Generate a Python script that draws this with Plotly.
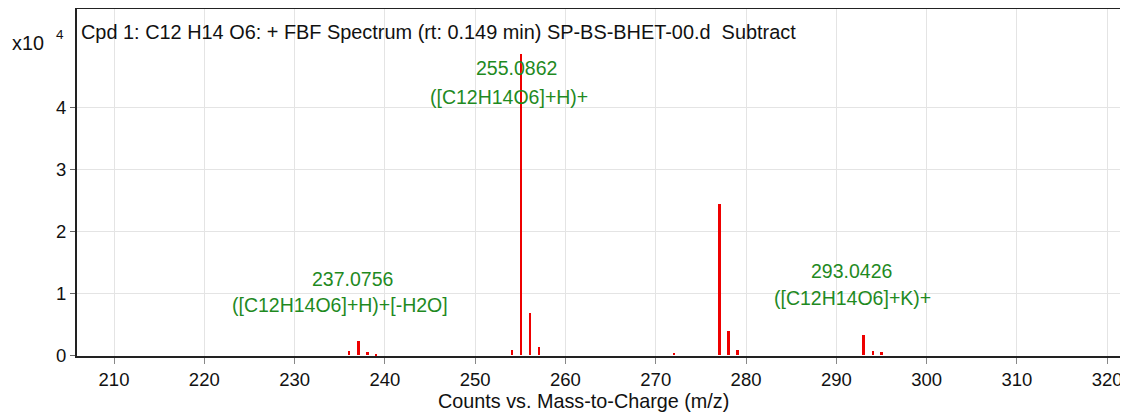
import plotly.graph_objects as go

# Peak data (m/z, counts in units of 10^4)
mz = [236.07, 237.0756, 238.08, 239.08, 254.08, 255.0862, 256.09, 257.09,
      272.06, 277.07, 278.07, 279.08, 293.0426, 294.05, 295.04]
intensity = [0.07, 0.23, 0.05, 0.02, 0.08, 4.87, 0.68, 0.14,
             0.04, 2.44, 0.39, 0.09, 0.33, 0.07, 0.05]
bar_width = [0.2, 0.3, 0.3, 0.15, 0.3, 0.22, 0.22, 0.22,
             0.2, 0.4, 0.35, 0.2, 0.2, 0.2, 0.35]

# Annotated peaks
ann_mass = ["255.0862", "237.0756", "293.0426"]
ann_formula = ["([C12H14O6]+H)+", "([C12H14O6]+H)+[-H2O]", "([C12H14O6]+K)+"]
ann_x1 = [254.6, 236.4, 291.7]
ann_x2 = [253.7, 235.05, 291.75]
ann_y1 = [4.65, 1.23, 1.37]
ann_y2 = [4.17, 0.81, 0.93]

x_ticks = [210, 220, 230, 240, 250, 260, 270, 280, 290, 300, 310, 320]
y_ticks = [0, 1, 2, 3, 4]

title_text = "Cpd 1: C12 H14 O6: + FBF Spectrum (rt: 0.149 min) SP-BS-BHET-00.d  Subtract"
x_title = "Counts vs. Mass-to-Charge (m/z)"

FONT = "Liberation Sans, Arial, sans-serif"
GREEN = "#1f8a1f"

fig = go.Figure()
fig.add_trace(go.Bar(x=mz, y=intensity, width=bar_width,
                     marker=dict(color="#ee0000", line=dict(width=0)),
                     hoverinfo="x+y"))

# page offset (browser body margin) is 8px; target coordinates are in page pixels
OFF = 8
W, H = 1128 - OFF, 414 - OFF
L, R, T, B = 77 - OFF, 0, 8 - OFF + 1, 58
pw, ph = W - L - R, H - T - B

def px(x):
    return (x - OFF - L) / pw

def py(y):
    return 1 - (y - OFF - T) / ph

annotations = []
for x1, x2, m, f, y1, y2 in zip(ann_x1, ann_x2, ann_mass, ann_formula, ann_y1, ann_y2):
    annotations.append(dict(x=x1, y=y1, xref="x", yref="y", text=m, showarrow=False,
                            font=dict(family=FONT, size=19.5, color=GREEN)))
    annotations.append(dict(x=x2, y=y2, xref="x", yref="y", text=f, showarrow=False,
                            font=dict(family=FONT, size=19.5, color=GREEN)))

annotations.append(dict(x=px(79), y=py(32), xref="paper", yref="paper", text=title_text,
                        showarrow=False, xanchor="left", yanchor="middle",
                        font=dict(family=FONT, size=19.9, color="#111")))
annotations.append(dict(x=px(10), y=py(43), xref="paper", yref="paper", text="x10",
                        showarrow=False, xanchor="left", yanchor="middle",
                        font=dict(family=FONT, size=19.8, color="#111")))
annotations.append(dict(x=px(54), y=py(35), xref="paper", yref="paper", text="4",
                        showarrow=False, xanchor="left", yanchor="middle",
                        font=dict(family=FONT, size=13.5, color="#111")))
annotations.append(dict(x=px(583), y=py(401), xref="paper", yref="paper", text=x_title,
                        showarrow=False, xanchor="center", yanchor="middle",
                        font=dict(family=FONT, size=19.8, color="#111")))

fig.update_layout(
    width=W, height=H,
    margin=dict(l=L, r=R, t=T, b=B),
    plot_bgcolor="white", paper_bgcolor="white",
    showlegend=False, bargap=0,
    annotations=annotations,
    font=dict(family=FONT, size=18, color="#111"),
    xaxis=dict(range=[205.9, 322.3], tickvals=x_ticks, ticks="outside", ticklen=6,
               tickcolor="#888", showgrid=True, gridcolor="#e4e4e4", gridwidth=1,
               showline=True, linecolor="#222", linewidth=2, mirror=True,
               zeroline=False, tickfont=dict(size=18.5)),
    yaxis=dict(range=[-0.01, 5.6], tickvals=y_ticks, ticks="outside", ticklen=5,
               tickcolor="#666", showgrid=True, gridcolor="#e4e4e4", gridwidth=1,
               showline=True, linecolor="#222", linewidth=2, zeroline=False,
               tickfont=dict(size=18.5)),
)

fig.write_html("out.html")
